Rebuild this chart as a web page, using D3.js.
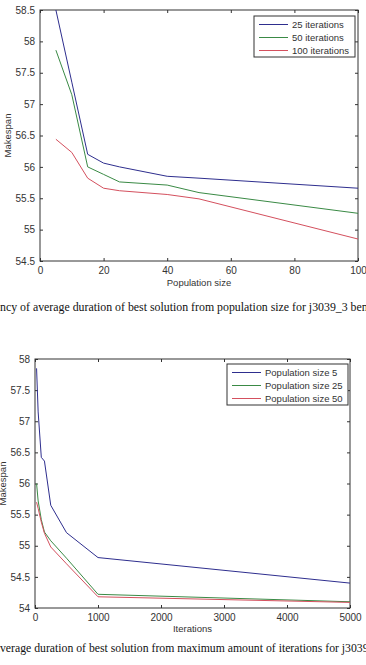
<!DOCTYPE html>
<html lang="en">
<head>
    <meta charset="UTF-8">
    <script src="https://cdn.jsdelivr.net/npm/d3@7"></script>
    <title>Makespan</title>
    <style>
        body { margin: 0; background: #fff; }
        svg { display: block; }
        .tick text { font-family: "Liberation Sans", Arial, sans-serif; font-size: 10px; fill: #333; }
        .tick line { stroke: #333; }
        .lbl { font-family: "Liberation Sans", Arial, sans-serif; font-size: 9.5px; fill: #333; }
        .cap { font-family: "Liberation Serif", "Times New Roman", serif; fill: #111; }
    </style>
</head>
<body>
<div id="viz"></div>
<script>
    // top chart: makespan vs population size
    const popSizes = [5, 10, 15, 20, 25, 40, 50, 100]
    const makespanIter25 = [58.5, 57.35, 56.2, 56.06, 56.0, 55.85, 55.82, 55.66]
    const makespanIter50 = [57.86, 57.15, 56.0, 55.88, 55.76, 55.71, 55.59, 55.26]
    const makespanIter100 = [56.44, 56.23, 55.82, 55.66, 55.62, 55.56, 55.49, 54.85]
    const legend1 = ["25 iterations", "50 iterations", "100 iterations"]
    const xTicks1 = [0, 20, 40, 60, 80, 100]
    const yTicks1 = [54.5, 55, 55.5, 56, 56.5, 57, 57.5, 58, 58.5]

    // bottom chart: makespan vs iterations
    const iterCounts = [25, 50, 100, 150, 250, 500, 1000, 5000]
    const makespanPop5 = [57.85, 57.15, 56.42, 56.36, 55.65, 55.21, 54.81, 54.4]
    const makespanPop25 = [56.0, 55.72, 55.42, 55.22, 55.08, 54.8, 54.22, 54.1]
    const makespanPop50 = [55.7, 55.6, 55.38, 55.2, 54.98, 54.71, 54.18, 54.09]
    const legend2 = ["Population size 5", "Population size 25", "Population size 50"]
    const xTicks2 = [0, 1000, 2000, 3000, 4000, 5000]
    const yTicks2 = [54, 54.5, 55, 55.5, 56, 56.5, 57, 57.5, 58]

    const caption1 = "Dependency of average duration of best solution from population size for j3039_3 benchmark"
    const caption2 = "Dependency of average duration of best solution from maximum amount of iterations for j3039_3 benchmark"

    const colors = ["#2e2e8e", "#3a8a45", "#d4505e"]

    const width = 366
    const height = 665

    const svg = d3.select("#viz")
        .append("svg")
        .attr("width", width)
        .attr("height", height)

    const fmt = d => String(d)

    function drawChart(cfg) {
        const g = svg.append("g")
        const x = d3.scaleLinear().domain(cfg.xDomain).range([cfg.left, cfg.right])
        const y = d3.scaleLinear().domain(cfg.yDomain).range([cfg.bottom, cfg.top])

        // four axes with inward ticks, like matlab
        g.append("g")
            .attr("transform", `translate(0,${cfg.bottom})`)
            .call(d3.axisBottom(x).tickValues(cfg.xTicks).tickFormat(fmt).tickSizeInner(-3).tickSizeOuter(0).tickPadding(6))
            .call(a => a.select(".domain").remove())
        g.append("g")
            .attr("transform", `translate(${cfg.left},0)`)
            .call(d3.axisLeft(y).tickValues(cfg.yTicks).tickFormat(fmt).tickSizeInner(-3).tickSizeOuter(0).tickPadding(5))
            .call(a => a.select(".domain").remove())
        g.append("g")
            .attr("transform", `translate(0,${cfg.top})`)
            .call(d3.axisTop(x).tickValues(cfg.xTicks).tickSizeInner(-3).tickSizeOuter(0).tickFormat(""))
            .call(a => a.select(".domain").remove())
        g.append("g")
            .attr("transform", `translate(${cfg.right},0)`)
            .call(d3.axisRight(y).tickValues(cfg.yTicks).tickSizeInner(-3).tickSizeOuter(0).tickFormat(""))
            .call(a => a.select(".domain").remove())

        g.append("rect")
            .attr("x", cfg.left).attr("y", cfg.top)
            .attr("width", cfg.right - cfg.left).attr("height", cfg.bottom - cfg.top)
            .attr("fill", "none").attr("stroke", "#333").attr("stroke-width", 1)

        const lineGen = d3.line()
            .x((d, i) => x(cfg.xs[i]))
            .y(d => y(d))

        g.selectAll(".series")
            .data(cfg.series)
            .enter()
            .append("path")
            .attr("d", d => lineGen(d))
            .attr("fill", "none")
            .attr("stroke", (d, i) => colors[i])
            .attr("stroke-width", 1)

        g.append("text")
            .attr("class", "lbl")
            .attr("x", (cfg.left + cfg.right) / 2)
            .attr("y", cfg.xLabelY)
            .attr("text-anchor", "middle")
            .text(cfg.xLabel)
        g.append("text")
            .attr("class", "lbl")
            .attr("transform", `translate(${cfg.yLabelX},${(cfg.top + cfg.bottom) / 2}) rotate(-90)`)
            .attr("text-anchor", "middle")
            .text("Makespan")

        // legend
        const lg = cfg.legend
        g.append("rect")
            .attr("x", lg.x).attr("y", lg.y)
            .attr("width", lg.w).attr("height", lg.h)
            .attr("fill", "#fff").attr("stroke", "#333").attr("stroke-width", 1)
        cfg.names.forEach((name, i) => {
            const ly = lg.y + 8.5 + i * 13
            g.append("line")
                .attr("x1", lg.x + 5).attr("x2", lg.x + 34)
                .attr("y1", ly).attr("y2", ly)
                .attr("stroke", colors[i])
            g.append("text")
                .attr("class", "lbl")
                .attr("x", lg.x + 38)
                .attr("y", ly + 3.5)
                .text(name)
        })
    }

    drawChart({
        left: 40, right: 358, top: 10, bottom: 261,
        xDomain: [0, 100], yDomain: [54.5, 58.5],
        xTicks: xTicks1, yTicks: yTicks1,
        xs: popSizes, series: [makespanIter25, makespanIter50, makespanIter100],
        names: legend1,
        xLabel: "Population size", xLabelY: 286, yLabelX: 11,
        legend: {x: 254, y: 16, w: 101, h: 41}
    })

    drawChart({
        left: 35, right: 350, top: 359, bottom: 608,
        xDomain: [0, 5000], yDomain: [54, 58],
        xTicks: xTicks2, yTicks: yTicks2,
        xs: iterCounts, series: [makespanPop5, makespanPop25, makespanPop50],
        names: legend2,
        xLabel: "Iterations", xLabelY: 632, yLabelX: 6,
        legend: {x: 227, y: 364, w: 121, h: 41}
    })

    // captions are wider than the page; fit so the cut-off parts match
    function caption(text, prefix, visible, targetWidth, baseline) {
        const probe = svg.append("text").attr("class", "cap").attr("font-size", 12)
        probe.text(visible)
        const visW = probe.node().getComputedTextLength()
        const fs = 12 * targetWidth / visW
        probe.attr("font-size", fs).text(prefix)
        const preW = probe.node().getComputedTextLength()
        probe.remove()
        svg.append("text")
            .attr("class", "cap")
            .attr("font-size", fs)
            .attr("x", -preW)
            .attr("y", baseline)
            .text(text)
    }

    caption(caption1, "Depende",
        "ncy of average duration of best solution from population size for j3039_3 be", 362, 311)
    caption(caption2, "Dependency of a",
        "verage duration of best solution from maximum amount of iterations for j303", 363, 652)
</script>
</body>
</html>
